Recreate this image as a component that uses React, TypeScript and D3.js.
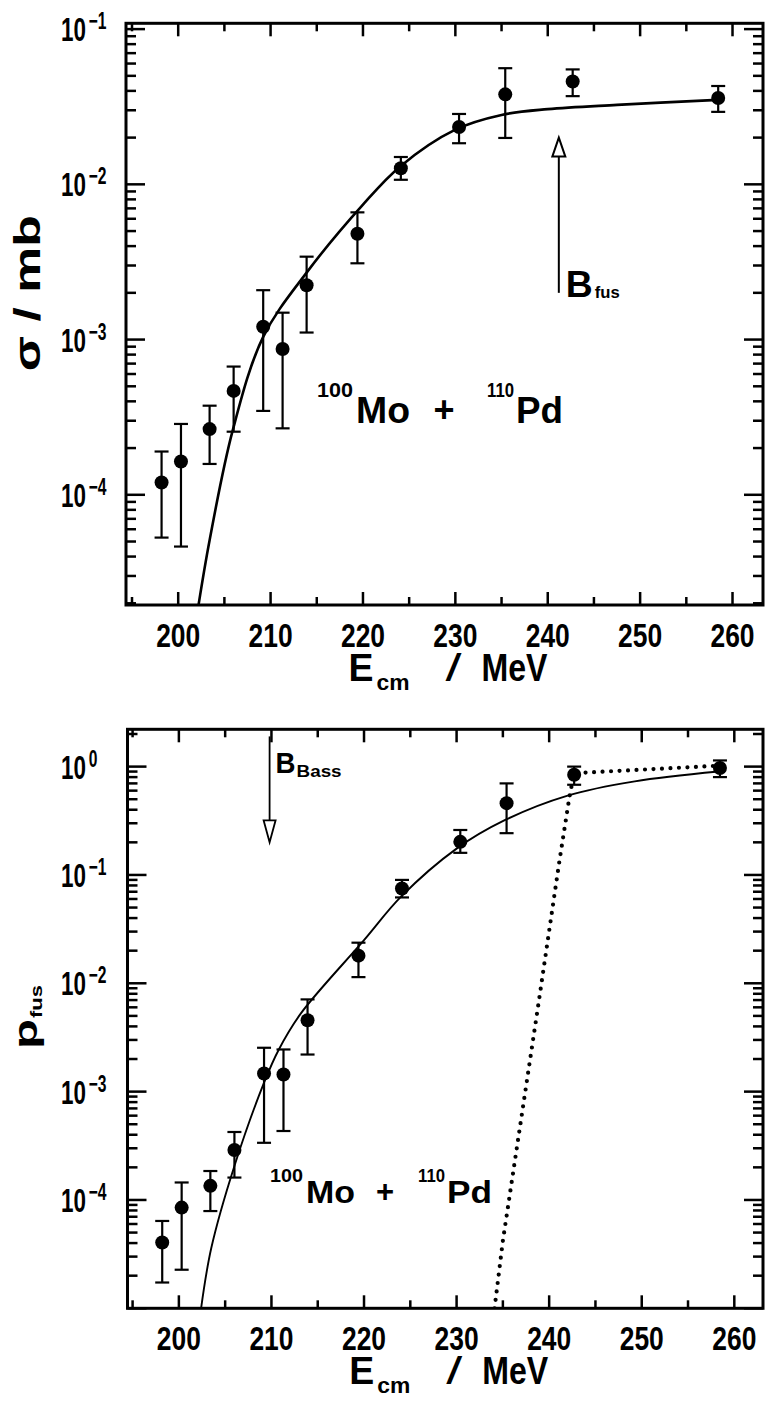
import React from "react";
import * as d3 from "d3";

const FONT = "'Liberation Sans', Arial, Helvetica, sans-serif";

// ---------- Upper panel: fusion cross section sigma (mb) ----------
const sigE = [198.2, 200.3, 203.4, 206.0, 209.2, 211.3, 213.9, 219.4, 224.1, 230.4, 235.4, 242.7, 258.45];
const sigVal = [1.2e-4, 1.64e-4, 2.65e-4, 4.67e-4, 1.21e-3, 8.7e-4, 2.24e-3, 4.8e-3, 1.27e-2, 2.34e-2, 3.8e-2, 4.6e-2, 3.6e-2];
const sigHi = [1.9e-4, 2.86e-4, 3.75e-4, 6.7e-4, 2.08e-3, 1.49e-3, 3.42e-3, 6.6e-3, 1.5e-2, 2.84e-2, 5.6e-2, 5.5e-2, 4.3e-2];
const sigLo = [5.3e-5, 4.64e-5, 1.58e-4, 2.55e-4, 3.47e-4, 2.68e-4, 1.11e-3, 3.1e-3, 1.07e-2, 1.84e-2, 1.99e-2, 3.7e-2, 2.93e-2];
const sigFitE = [202.2, 203.4, 205.9, 209.2, 213.9, 220, 224, 230, 235, 240, 247.5, 258.4];
const sigFitVal = [1.95e-5, 5.1e-5, 2.6e-4, 1.04e-3, 2.7e-3, 7.4e-3, 1.3e-2, 2.25e-2, 2.8e-2, 3.05e-2, 3.25e-2, 3.5e-2];

// ---------- Lower panel: fusion probability p_fus ----------
const pE = [198.2, 200.3, 203.4, 206.0, 209.2, 211.3, 213.9, 219.4, 224.1, 230.4, 235.4, 242.7, 258.45];
const pVal = [4.05e-5, 8.5e-5, 1.35e-4, 2.89e-4, 1.47e-3, 1.44e-3, 4.56e-3, 1.8e-2, 7.5e-2, 0.202, 0.46, 0.84, 0.97];
const pHi = [6.4e-5, 1.45e-4, 1.85e-4, 4.24e-4, 2.54e-3, 2.45e-3, 7.1e-3, 2.37e-2, 9.0e-2, 0.26, 0.7, 1.0, 1.14];
const pLo = [1.73e-5, 2.27e-5, 7.9e-5, 1.61e-4, 3.37e-4, 4.33e-4, 2.2e-3, 1.14e-2, 6.2e-2, 0.16, 0.243, 0.68, 0.8];
const pFitE = [202.4, 203.5, 206, 209.2, 210.8, 213.2, 220, 224, 230, 235.2, 242, 249.25, 258.3];
const pFitVal = [1e-5, 3.6e-5, 2.06e-4, 1.21e-3, 2.45e-3, 5.3e-3, 2.5e-2, 6.3e-2, 0.175, 0.32, 0.54, 0.73, 0.9];
const pDotE = [234.1, 235.0, 238.8, 241.1, 242.2, 242.7, 258.4];
const pDotVal = [1e-5, 4.2e-5, 6.1e-3, 0.133, 0.53, 0.87, 1.02];

// x tick values (MeV)
const xTickVals = [195, 200, 205, 210, 215, 220, 225, 230, 235, 240, 245, 250, 255, 260];
const xTickLabels = ["200", "210", "220", "230", "240", "250", "260"];

// arrows
const bFus = { e: 241.2, tail: 0.002, tip: 0.02 };
const bBass = { e: 209.8, tail: 1.9, tip: 0.2 };

const topCfg = {
  id: "top",
  left: 126, right: 763, top: 23.3, bottom: 605,
  xDomain: [194.35, 263.3], yDomain: [1.95e-5, 0.109],
};
const botCfg = {
  id: "bot",
  left: 127.5, right: 763, top: 729.3, bottom: 1308.3,
  xDomain: [194.45, 263.1], yDomain: [1e-5, 2.21],
};

function makeScales(cfg) {
  const x = d3.scaleLinear().domain(cfg.xDomain).range([cfg.left, cfg.right]);
  const y = d3.scaleLog().domain(cfg.yDomain).range([cfg.bottom, cfg.top]);
  return { x, y };
}

function logTicks(domain) {
  const out = [];
  const k0 = Math.floor(Math.log10(domain[0]));
  const k1 = Math.ceil(Math.log10(domain[1]));
  for (let k = k0; k <= k1; k++) {
    for (let m = 1; m <= 9; m++) {
      const v = m * Math.pow(10, k);
      if (v >= domain[0] && v <= domain[1]) out.push({ v, major: m === 1, k });
    }
  }
  return out;
}

function Frame({ cfg, x, y }) {
  const yt = logTicks(cfg.yDomain);
  const xt = xTickVals.filter((v) => v >= cfg.xDomain[0] && v <= cfg.xDomain[1]);
  return (
    <g stroke="#000" fill="none">
      {xt.map((v) => {
        const L = v % 10 === 0 ? 13 : 8;
        return (
          <g key={"x" + v} strokeWidth={2.5}>
            <line x1={x(v)} x2={x(v)} y1={cfg.bottom} y2={cfg.bottom - L} />
            <line x1={x(v)} x2={x(v)} y1={cfg.top} y2={cfg.top + L} />
          </g>
        );
      })}
      {yt.map((t) => {
        const L = t.major ? 19 : 10;
        return (
          <g key={"y" + t.v} strokeWidth={2.5}>
            <line x1={cfg.left} x2={cfg.left + L} y1={y(t.v)} y2={y(t.v)} />
            <line x1={cfg.right} x2={cfg.right - L} y1={y(t.v)} y2={y(t.v)} />
          </g>
        );
      })}
      <rect x={cfg.left} y={cfg.top} width={cfg.right - cfg.left} height={cfg.bottom - cfg.top} strokeWidth={3} />
    </g>
  );
}

function TickLabels({ cfg, x, y }) {
  // label only the decades lying inside the frame (not on its edge)
  const yt = logTicks(cfg.yDomain).filter((t) => t.major && y(t.v) < cfg.bottom - 5);
  return (
    <g fontFamily={FONT} fontWeight="bold" fill="#000">
      {xTickLabels.map((s) => (
        <text key={s} transform={`translate(${x(+s)},${cfg.bottom + 42}) scale(0.8,1)`} fontSize={33}
          textAnchor="middle">{s}</text>
      ))}
      {yt.map((t) => {
        const exp = t.k === 0 ? "0" : "\u2212" + Math.abs(t.k);
        return (
          <text key={"l" + t.k} transform={`translate(61,${y(t.v) + 12}) scale(0.68,1)`}>
            <tspan fontSize={33}>10</tspan>
            <tspan fontSize={23} dx={4} dy={-12}>{exp}</tspan>
          </text>
        );
      })}
    </g>
  );
}

function Points({ x, y, E, V, HI, LO }) {
  return (
    <g>
      {E.map((e, i) => (
        <g key={i} stroke="#000" strokeWidth={2.2}>
          <line x1={x(e)} x2={x(e)} y1={y(HI[i])} y2={y(LO[i])} />
          <line x1={x(e) - 7} x2={x(e) + 7} y1={y(HI[i])} y2={y(HI[i])} />
          <line x1={x(e) - 7} x2={x(e) + 7} y1={y(LO[i])} y2={y(LO[i])} />
          <circle cx={x(e)} cy={y(V[i])} r={7} fill="#000" stroke="none" />
        </g>
      ))}
    </g>
  );
}

function XTitle({ cfg }) {
  const cx = (cfg.left + cfg.right) / 2;
  const base = cfg.bottom + 76;
  return (
    <g fontFamily={FONT} fontWeight="bold" fill="#000">
      <text x={cx - 96} y={base} fontSize={38} textLength={25} lengthAdjust="spacingAndGlyphs">E</text>
      <text x={cx - 68} y={base + 9} fontSize={22} textLength={33} lengthAdjust="spacingAndGlyphs">cm</text>
      <text x={cx + 1} y={base} fontSize={38} fontWeight="normal" textLength={16} lengthAdjust="spacingAndGlyphs">/</text>
      <text x={cx + 37} y={base} fontSize={38} textLength={66} lengthAdjust="spacingAndGlyphs">MeV</text>
    </g>
  );
}

export default function App() {
  const T = makeScales(topCfg);
  const B = makeScales(botCfg);

  const lineT = d3.line().x((d) => T.x(d[0])).y((d) => T.y(d[1])).curve(d3.curveCatmullRom.alpha(0.5));
  const lineB = d3.line().x((d) => B.x(d[0])).y((d) => B.y(d[1])).curve(d3.curveCatmullRom.alpha(0.5));
  const lineBdot = d3.line().x((d) => B.x(d[0])).y((d) => B.y(d[1])).curve(d3.curveLinear);

  const sigFit = sigFitE.map((e, i) => [e, sigFitVal[i]]);
  const pFit = pFitE.map((e, i) => [e, pFitVal[i]]);
  const pDot = pDotE.map((e, i) => [e, pDotVal[i]]);

  const fx = T.x(bFus.e), fTip = T.y(bFus.tip), fTail = T.y(bFus.tail);
  const bx = B.x(bBass.e), bTip = B.y(bBass.tip), bTail = B.y(bBass.tail);

  return (
    <svg width={765} height={1409} style={{ position: "absolute", left: 0, top: 0, background: "#fff" }}>
      <defs>
        <clipPath id="clipTop">
          <rect x={topCfg.left} y={topCfg.top} width={topCfg.right - topCfg.left} height={topCfg.bottom - topCfg.top} />
        </clipPath>
        <clipPath id="clipBot">
          <rect x={botCfg.left} y={botCfg.top} width={botCfg.right - botCfg.left} height={botCfg.bottom - botCfg.top} />
        </clipPath>
      </defs>
      <rect x={0} y={0} width={765} height={1409} fill="#fff" />

      {/* ===== Upper panel ===== */}
      <Frame cfg={topCfg} x={T.x} y={T.y} />
      <TickLabels cfg={topCfg} x={T.x} y={T.y} />
      <g clipPath="url(#clipTop)">
        <path d={lineT(sigFit)} fill="none" stroke="#000" strokeWidth={2.6} />
      </g>
      <Points x={T.x} y={T.y} E={sigE} V={sigVal} HI={sigHi} LO={sigLo} />
      <line x1={fx} x2={fx} y1={fTail} y2={fTip + 19} stroke="#000" strokeWidth={2} />
      <path d={`M${fx},${fTip} L${fx - 6.5},${fTip + 19} L${fx + 6.5},${fTip + 19} Z`} fill="#fff" stroke="#000" strokeWidth={2} />
      <g fontFamily={FONT} fontWeight="bold" fill="#000">
        <text x={fx + 7} y={fTail + 4} fontSize={36} textLength={27} lengthAdjust="spacingAndGlyphs">B</text>
        <text x={fx + 36} y={fTail + 5} fontSize={17} textLength={25} lengthAdjust="spacingAndGlyphs">fus</text>
      </g>
      <g fontFamily={FONT} fontWeight="bold" fill="#000">
        <text x={317} y={397} fontSize={20} textLength={36} lengthAdjust="spacingAndGlyphs">100</text>
        <text x={356} y={423} fontSize={36} textLength={54} lengthAdjust="spacingAndGlyphs">Mo</text>
        <text x={444} y={422} fontSize={36} textAnchor="middle">+</text>
        <text x={487} y={397} fontSize={20} textLength={27} lengthAdjust="spacingAndGlyphs">110</text>
        <text x={516} y={423} fontSize={36} textLength={47} lengthAdjust="spacingAndGlyphs">Pd</text>
      </g>
      <XTitle cfg={topCfg} />
      <text transform={`translate(40,${(topCfg.top + topCfg.bottom) / 2 - 21}) rotate(-90)`} textAnchor="middle"
        fontFamily={FONT} fontWeight="bold" fontSize={36} textLength={156} lengthAdjust="spacingAndGlyphs">σ / mb</text>

      {/* ===== Lower panel ===== */}
      <Frame cfg={botCfg} x={B.x} y={B.y} />
      <TickLabels cfg={botCfg} x={B.x} y={B.y} />
      <g clipPath="url(#clipBot)">
        <path d={lineB(pFit)} fill="none" stroke="#000" strokeWidth={1.9} />
        <path d={lineBdot(pDot)} fill="none" stroke="#000" strokeWidth={4.2} strokeLinecap="round" strokeDasharray="0 8.5" />
      </g>
      <Points x={B.x} y={B.y} E={pE} V={pVal} HI={pHi} LO={pLo} />
      <line x1={bx} x2={bx} y1={bTail} y2={bTip - 22} stroke="#000" strokeWidth={1.8} />
      <path d={`M${bx},${bTip} L${bx - 6},${bTip - 22} L${bx + 6},${bTip - 22} Z`} fill="#fff" stroke="#000" strokeWidth={1.8} />
      <g fontFamily={FONT} fontWeight="bold" fill="#000">
        <text x={bx + 6} y={bTail + 37} fontSize={30} textLength={20} lengthAdjust="spacingAndGlyphs">B</text>
        <text x={bx + 27} y={bTail + 41} fontSize={16} textLength={45} lengthAdjust="spacingAndGlyphs">Bass</text>
      </g>
      <g fontFamily={FONT} fontWeight="bold" fill="#000">
        <text x={270} y={1182} fontSize={19} textLength={33} lengthAdjust="spacingAndGlyphs">100</text>
        <text x={306} y={1203} fontSize={31} textLength={49} lengthAdjust="spacingAndGlyphs">Mo</text>
        <text x={385} y={1202} fontSize={31} textAnchor="middle">+</text>
        <text x={418} y={1182} fontSize={19} textLength={27} lengthAdjust="spacingAndGlyphs">110</text>
        <text x={447} y={1203} fontSize={31} textLength={45} lengthAdjust="spacingAndGlyphs">Pd</text>
      </g>
      <XTitle cfg={botCfg} />
      <g transform={`translate(37,1012) rotate(-90)`} fontFamily={FONT} fontWeight="bold" fill="#000">
        <text x={-37} y={0} fontSize={34} textLength={30} lengthAdjust="spacingAndGlyphs">p</text>
        <text x={-6} y={5} fontSize={17} textLength={33} lengthAdjust="spacingAndGlyphs">fus</text>
      </g>
    </svg>
  );
}
